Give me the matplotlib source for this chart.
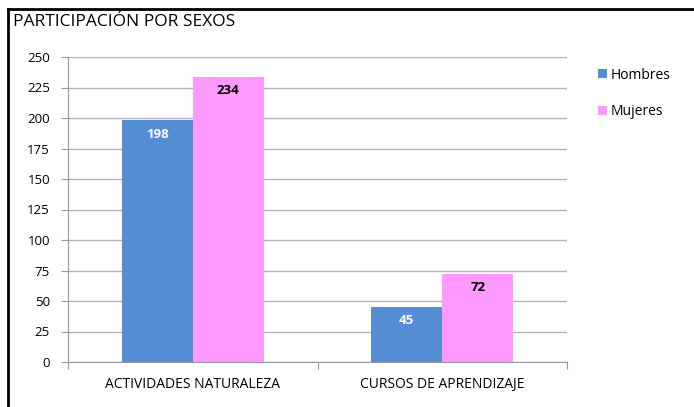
import matplotlib.pyplot as plt
import numpy as np

categorias = ["ACTIVIDADES NATURALEZA", "CURSOS DE APRENDIZAJE"]
hombres = [198, 45]
mujeres = [234, 72]
series = ["Hombres", "Mujeres"]
colores = ["#558ed5", "#ff99ff"]

plt.rcParams["font.family"] = ["Open Sans", "DejaVu Sans"]

fig = plt.figure(figsize=(6.94, 4.07), dpi=100)
ax = fig.add_axes([68 / 694, 1 - 362 / 407, (567 - 68) / 694, (362 - 57) / 407])

x = np.arange(len(categorias))
w = 0.284
b1 = ax.bar(x - w / 2, hombres, w, color=colores[0], label=series[0], zorder=3)
b2 = ax.bar(x + w / 2, mujeres, w, color=colores[1], label=series[1], zorder=3)

for bars, col in [(b1, "white"), (b2, "black")]:
    for r in bars:
        ax.text(r.get_x() + r.get_width() / 2, r.get_height() - 6, str(int(r.get_height())),
                ha="center", va="top", fontsize=9.5, fontweight="bold", color=col, zorder=4)

ax.set_xlim(-0.5, 1.5)
ax.set_ylim(0, 250)
ax.set_yticks(range(0, 251, 25))
ax.yaxis.grid(True, color="#b3b3b3", linewidth=1)
ax.set_axisbelow(True)
ax.set_xticks([-0.5, 0.5, 1.5], minor=False)
ax.set_xticklabels([])
ax.set_xticks(x, minor=True)
ax.set_xticklabels(categorias, minor=True, fontsize=10)
ax.tick_params(axis="x", which="minor", length=0, pad=11)
ax.tick_params(axis="x", which="major", length=5, color="#999999")
ax.tick_params(axis="y", length=5, color="#999999", labelsize=9.5, pad=8)

for s in ["top", "right"]:
    ax.spines[s].set_visible(False)
for s in ["left", "bottom"]:
    ax.spines[s].set_color("#999999")

fig.legend(handles=[b1, b2], labels=series, loc="upper left", bbox_to_anchor=(585 / 694, 1 - 55 / 407),
           frameon=False, fontsize=10, handlelength=0.65, handleheight=0.65, handletextpad=0.3,
           labelspacing=1.55)

fig.text(13 / 694, 1 - 22 / 407, "PARTICIPACIÓN POR SEXOS", fontsize=12.5, va="center", ha="left")

# marco
fig.add_artist(plt.Line2D([8 / 694, 8 / 694], [0, 1 - 9 / 407], color="black", linewidth=2))
fig.add_artist(plt.Line2D([8 / 694, 1], [1 - 9 / 407, 1 - 9 / 407], color="black", linewidth=2))

fig.savefig("out.png", dpi=100)
